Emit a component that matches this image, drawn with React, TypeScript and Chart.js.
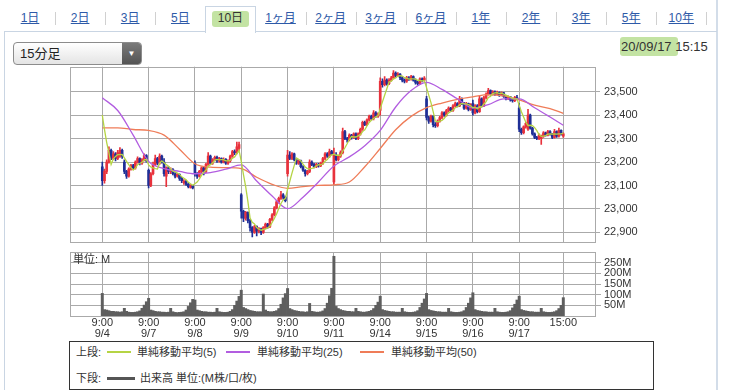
import { useEffect, useRef } from 'react';
import { Chart, registerables } from 'chart.js';

Chart.register(...registerables);

// ---------- data ----------
const dayLabels = ['9/4', '9/7', '9/8', '9/9', '9/10', '9/11', '9/14', '9/15', '9/16', '9/17'];
const openTimeLabel = '9:00';
const closeTimeLabel = '15:00';
const BARS_PER_DAY = 21;
const priceTicks = [22900, 23000, 23100, 23200, 23300, 23400, 23500];
const volumeTicks = [50, 100, 150, 200, 250];
const tabLabels = ['1日', '2日', '3日', '5日', '10日', '1ヶ月', '2ヶ月', '3ヶ月', '6ヶ月', '1年', '2年', '3年', '5年', '10年'];
const selectedTab = '10日';
const intervalLabel = '15分足';
const dateLabel = '20/09/17';
const timeLabel = '15:15';

const opens = [
  23180, 23120, 23160, 23200, 23250, 23215, 23235, 23215, 23225, 23250, 23200, 23160, 23140, 23170, 23185, 23175, 23200, 23215, 23195, 23210, 23228,
  23165, 23100, 23150, 23190, 23215, 23195, 23225, 23200, 23140, 23175, 23160, 23168, 23150, 23140, 23148, 23130, 23112, 23118, 23105, 23092, 23098,
  23195, 23150, 23140, 23160, 23175, 23160, 23190, 23225, 23195, 23210, 23220, 23205, 23215, 23200, 23212, 23195, 23205, 23225, 23245, 23240, 23258,
  23060, 22990, 22960, 22985, 22950, 22920, 22900, 22925, 22905, 22915, 22900, 22920, 22935, 22925, 22955, 22975, 23005, 23030, 23045, 23060, 23050,
  23150, 23230, 23215, 23235, 23210, 23195, 23205, 23180, 23165, 23150, 23160, 23200, 23190, 23180, 23190, 23183, 23195, 23215, 23235, 23225, 23245,
  23115, 23230, 23210, 23225, 23240, 23330, 23300, 23295, 23315, 23305, 23320, 23300, 23320, 23340, 23370, 23360, 23380, 23395, 23385, 23410, 23395,
  23420, 23545, 23530, 23550, 23535, 23550, 23560, 23580, 23570, 23575, 23560, 23550, 23545, 23560, 23555, 23565, 23550, 23540, 23535, 23555, 23550,
  23470, 23390, 23375, 23395, 23360, 23355, 23375, 23390, 23410, 23400, 23420, 23430, 23420, 23440, 23450, 23440, 23470, 23450, 23430, 23450, 23425,
  23450, 23410, 23440, 23415, 23470, 23440, 23475, 23490, 23505, 23490, 23500, 23490, 23498, 23485, 23495, 23480, 23470, 23478, 23465, 23462, 23475,
  23430, 23340, 23325, 23350, 23340, 23400, 23345, 23320, 23305, 23300, 23300, 23310, 23325, 23315, 23330, 23320, 23305, 23330, 23310, 23335, 23310,
];
const closes = [
  23120, 23160, 23200, 23250, 23220, 23235, 23215, 23240, 23250, 23225, 23160, 23140, 23170, 23185, 23175, 23200, 23215, 23195, 23210, 23228, 23205,
  23100, 23150, 23190, 23215, 23195, 23225, 23200, 23150, 23175, 23160, 23168, 23150, 23140, 23148, 23130, 23120, 23118, 23105, 23095, 23098, 23090,
  23150, 23140, 23160, 23175, 23160, 23190, 23225, 23195, 23210, 23220, 23205, 23215, 23200, 23212, 23195, 23205, 23225, 23245, 23240, 23265, 23275,
  22990, 22960, 22985, 22950, 22920, 22900, 22925, 22905, 22915, 22900, 22920, 22935, 22925, 22955, 22975, 23005, 23030, 23045, 23060, 23050, 23035,
  23230, 23215, 23235, 23210, 23195, 23205, 23180, 23165, 23150, 23160, 23200, 23190, 23180, 23190, 23183, 23195, 23215, 23235, 23225, 23245, 23235,
  23230, 23210, 23225, 23240, 23330, 23300, 23295, 23315, 23305, 23320, 23300, 23320, 23340, 23370, 23360, 23380, 23395, 23385, 23410, 23395, 23405,
  23545, 23530, 23550, 23535, 23550, 23560, 23580, 23570, 23575, 23560, 23550, 23545, 23560, 23555, 23565, 23550, 23540, 23535, 23555, 23550, 23558,
  23390, 23375, 23395, 23360, 23355, 23375, 23390, 23410, 23400, 23420, 23430, 23420, 23440, 23450, 23440, 23470, 23450, 23430, 23450, 23425, 23445,
  23410, 23440, 23415, 23470, 23440, 23475, 23490, 23505, 23490, 23500, 23490, 23498, 23485, 23495, 23480, 23470, 23478, 23465, 23462, 23475, 23470,
  23340, 23325, 23350, 23365, 23400, 23345, 23320, 23305, 23300, 23315, 23310, 23325, 23315, 23330, 23320, 23305, 23330, 23310, 23335, 23320, 23320,
];
const highs = [
  23200, 23170, 23210, 23265, 23255, 23245, 23240, 23250, 23262, 23255, 23210, 23165, 23175, 23190, 23190, 23205, 23222, 23218, 23215, 23235, 23232,
  23170, 23155, 23200, 23230, 23220, 23235, 23230, 23215, 23180, 23182, 23175, 23172, 23155, 23152, 23150, 23135, 23125, 23122, 23110, 23104, 23100,
  23205, 23155, 23165, 23180, 23178, 23195, 23240, 23230, 23215, 23226, 23225, 23220, 23218, 23218, 23215, 23210, 23230, 23250, 23252, 23285, 23285,
  23065, 22995, 22990, 22988, 22955, 22925, 22930, 22928, 22920, 22918, 22925, 22940, 22938, 22960, 22980, 23010, 23035, 23050, 23075, 23065, 23055,
  23250, 23245, 23240, 23238, 23215, 23210, 23208, 23185, 23168, 23165, 23210, 23205, 23195, 23195, 23194, 23200, 23220, 23240, 23240, 23255, 23250,
  23260, 23240, 23230, 23248, 23345, 23335, 23305, 23320, 23318, 23325, 23325, 23325, 23345, 23375, 23375, 23385, 23400, 23400, 23420, 23415, 23410,
  23560, 23555, 23565, 23555, 23556, 23566, 23590, 23585, 23582, 23578, 23565, 23555, 23566, 23565, 23570, 23568, 23555, 23545, 23560, 23560, 23565,
  23480, 23395, 23400, 23398, 23368, 23380, 23395, 23415, 23414, 23425, 23436, 23434, 23445, 23456, 23454, 23480, 23474, 23455, 23455, 23452, 23450,
  23465, 23445, 23445, 23480, 23474, 23480, 23495, 23515, 23508, 23505, 23504, 23503, 23500, 23500, 23498, 23484, 23483, 23480, 23470, 23480, 23485,
  23450, 23345, 23355, 23370, 23425, 23405, 23348, 23325, 23310, 23320, 23315, 23330, 23328, 23335, 23334, 23322, 23340, 23333, 23345, 23338, 23325,
];
const lows = [
  23100, 23110, 23150, 23195, 23210, 23210, 23205, 23210, 23220, 23215, 23150, 23130, 23135, 23165, 23170, 23170, 23195, 23188, 23190, 23205, 23200,
  23090, 23095, 23145, 23185, 23188, 23190, 23195, 23140, 23095, 23150, 23150, 23145, 23132, 23135, 23122, 23112, 23105, 23100, 23090, 23088, 23085,
  23140, 23130, 23135, 23155, 23145, 23155, 23185, 23190, 23190, 23205, 23198, 23200, 23195, 23196, 23190, 23190, 23200, 23220, 23232, 23235, 23250,
  22960, 22945, 22952, 22940, 22905, 22880, 22895, 22885, 22898, 22890, 22895, 22915, 22918, 22920, 22950, 22970, 23000, 23025, 23040, 23042, 23030,
  23140, 23210, 23210, 23205, 23190, 23190, 23175, 23160, 23140, 23145, 23155, 23185, 23175, 23176, 23178, 23180, 23190, 23210, 23220, 23220, 23230,
  23105, 23205, 23205, 23220, 23235, 23295, 23285, 23290, 23298, 23300, 23295, 23296, 23315, 23335, 23355, 23355, 23375, 23380, 23380, 23390, 23390,
  23400, 23520, 23525, 23528, 23530, 23545, 23555, 23562, 23565, 23552, 23542, 23538, 23540, 23548, 23550, 23545, 23532, 23528, 23530, 23542, 23545,
  23380, 23365, 23370, 23350, 23348, 23350, 23370, 23385, 23395, 23396, 23415, 23415, 23416, 23436, 23435, 23436, 23445, 23425, 23426, 23418, 23420,
  23400, 23405, 23410, 23412, 23435, 23436, 23470, 23486, 23485, 23486, 23484, 23486, 23480, 23482, 23476, 23465, 23466, 23460, 23456, 23458, 23465,
  23330, 23318, 23320, 23345, 23335, 23340, 23315, 23300, 23295, 23296, 23275, 23305, 23310, 23312, 23315, 23300, 23302, 23305, 23306, 23315, 23305,
];
// volume in millions
const volumes = [
  106, 30, 28, 25, 22, 22, 20, 20, 18, 20, 36, 22, 18, 17, 17, 18, 20, 24, 36, 51, 67,
  83, 28, 25, 22, 20, 20, 18, 18, 17, 18, 36, 20, 17, 16, 17, 18, 20, 28, 45, 62, 78,
  75, 28, 25, 22, 20, 20, 18, 18, 17, 18, 36, 20, 18, 17, 17, 18, 22, 30, 50, 70, 92,
  121, 40, 35, 30, 26, 24, 22, 20, 20, 20, 103, 28, 22, 20, 20, 22, 25, 35, 55, 85, 105,
  129, 35, 30, 26, 24, 22, 20, 20, 18, 20, 59, 22, 20, 18, 18, 20, 24, 35, 60, 95, 130,
  280, 45, 35, 30, 26, 24, 22, 22, 20, 20, 36, 22, 20, 18, 18, 20, 22, 26, 35, 50, 65,
  93, 30, 26, 24, 22, 20, 20, 18, 18, 18, 36, 20, 18, 17, 17, 18, 20, 25, 40, 60, 80,
  106, 30, 26, 24, 22, 20, 20, 18, 18, 18, 36, 20, 18, 17, 17, 18, 20, 25, 40, 60, 85,
  109, 30, 26, 24, 22, 20, 20, 18, 18, 18, 36, 20, 18, 17, 17, 18, 20, 25, 38, 55, 75,
  93, 30, 26, 24, 22, 20, 20, 18, 18, 18, 36, 20, 18, 17, 17, 18, 20, 25, 35, 50, 86,
];
// closes before the window (implied by where the 5-bar average starts)
const priorCloses = [23470, 23475, 23465, 23470];
// longer moving averages at every 7th bar
const maSampleIdx = [0, 7, 14, 21, 28, 35, 42, 49, 56, 63, 70, 77, 84, 91, 98, 105, 112, 119, 126, 133, 140, 147, 154, 161, 168, 175, 182, 189, 196, 203, 209];
const ma25 = [23474, 23420, 23315, 23203, 23172, 23160, 23150, 23155, 23170, 23188, 23119, 23055, 23001, 23050, 23115, 23183, 23222, 23270, 23335, 23435, 23505, 23540, 23510, 23470, 23430, 23445, 23470, 23470, 23432, 23392, 23357];
const ma50 = [23346, 23346, 23339, 23335, 23315, 23255, 23193, 23178, 23176, 23172, 23135, 23105, 23088, 23095, 23100, 23103, 23115, 23180, 23258, 23338, 23395, 23432, 23452, 23468, 23478, 23488, 23482, 23465, 23443, 23428, 23408];
const legendItems = ['単純移動平均(5)', '単純移動平均(25)', '単純移動平均(50)'];
const volumeLegend = '出来高 単位:(M株/口/枚)';

// ---------- style ----------
const FONT = "'Liberation Sans', Arial, 'Noto Sans CJK JP', sans-serif";
const RED = '#e8323c';
const BLUE = '#1f2f96';
const C_MA5 = '#b5d444';
const C_MA25 = '#b25de0';
const C_MA50 = '#ef7c58';
const C_VOL = '#5e5e5e';
const GRID = '#aaaaaa';
const TEXT = '#333333';
const PANEL = '#c9d5e3';
const GREEN_HL = '#c3e3a3';

const X_MIN = -14.64;
const X_MAX = 223.37;

const framePlugin = {
  id: 'frame',
  afterDraw(chart: any) {
    const { ctx, chartArea: a } = chart;
    ctx.save();
    ctx.strokeStyle = GRID;
    ctx.lineWidth = 1;
    const l = Math.round(a.left) + 0.5;
    const t = Math.round(a.top) + 0.5;
    const r = Math.round(a.right) + 0.5;
    const b = Math.round(a.bottom) + 0.5;
    ctx.strokeRect(l, t, r - l, b - t);
    ctx.restore();
  },
};

export default function App() {
  const priceRef = useRef<HTMLCanvasElement>(null);
  const volRef = useRef<HTMLCanvasElement>(null);

  useEffect(() => {
    const n = closes.length;
    const gridIdx = [...dayLabels.map((_, d) => d * BARS_PER_DAY), n - 1];
    const allCloses = [...priorCloses, ...closes];
    const ma5 = closes.map((_, i) => {
      let s = 0;
      for (let k = 0; k < 5; k++) s += allCloses[i + k];
      return s / 5;
    });
    const candleColor = (ctx: any) => (closes[ctx.dataIndex] >= opens[ctx.dataIndex] ? RED : BLUE);

    const xBase = (showLabels: boolean, height: number) => ({
      type: 'linear' as const,
      min: X_MIN,
      max: X_MAX,
      offset: false,
      afterBuildTicks: (s: any) => {
        s.ticks = gridIdx.map((v) => ({ value: v }));
      },
      afterFit: (s: any) => {
        s.height = height;
        s.paddingLeft = 0;
        s.paddingRight = 0;
      },
      grid: { color: GRID, drawTicks: false, lineWidth: 1, offset: false },
      border: { display: false },
      ticks: {
        display: showLabels,
        autoSkip: false,
        maxRotation: 0,
        minRotation: 0,
        padding: 1,
        color: TEXT,
        font: { family: FONT, size: 11, lineHeight: 1 },
        callback: (v: any) => {
          const i = Math.round(Number(v));
          if (i % BARS_PER_DAY === 0 && i / BARS_PER_DAY < dayLabels.length) {
            return [openTimeLabel, dayLabels[i / BARS_PER_DAY]];
          }
          return closeTimeLabel;
        },
      },
    });

    const yFit = (s: any) => {
      s.width = 138;
      s.paddingTop = 0;
      s.paddingBottom = 0;
    };

    const price = new Chart(priceRef.current!, {
      type: 'bar',
      data: {
        datasets: [
          {
            type: 'line',
            data: ma5.map((y, i) => ({ x: i, y })),
            borderColor: C_MA5,
            borderWidth: 1.3,
            pointRadius: 0,
            tension: 0,
            order: 0,
          } as any,
          {
            type: 'line',
            data: ma25.map((y, k) => ({ x: maSampleIdx[k], y })),
            borderColor: C_MA25,
            borderWidth: 1.3,
            pointRadius: 0,
            cubicInterpolationMode: 'monotone',
            order: 1,
          },
          {
            type: 'line',
            data: ma50.map((y, k) => ({ x: maSampleIdx[k], y })),
            borderColor: C_MA50,
            borderWidth: 1.3,
            pointRadius: 0,
            cubicInterpolationMode: 'monotone',
            order: 2,
          },
          {
            type: 'bar',
            data: opens.map((o, i) => ({ x: i, y: [o, closes[i]] })),
            backgroundColor: candleColor,
            barThickness: 2,
            minBarLength: 1,
            grouped: false,
            borderWidth: 0,
            order: 3,
          },
          {
            type: 'bar',
            data: lows.map((lo, i) => ({ x: i, y: [lo, highs[i]] })),
            backgroundColor: candleColor,
            barThickness: 1,
            grouped: false,
            borderWidth: 0,
            order: 4,
          },
        ],
      } as any,
      options: {
        animation: false,
        responsive: false,
        devicePixelRatio: 1,
        layout: { padding: { left: 70, right: 0, top: 6.7, bottom: 8.3 } },
        plugins: { legend: { display: false }, tooltip: { enabled: false } },
        scales: {
          x: xBase(false, 0) as any,
          y: {
            position: 'right',
            min: 22860,
            max: 23607,
            afterBuildTicks: (s: any) => {
              s.ticks = priceTicks.map((v) => ({ value: v }));
            },
            afterFit: yFit,
            grid: { color: GRID, tickLength: 5, lineWidth: 1 },
            border: { display: false },
            ticks: {
              autoSkip: false,
              color: TEXT,
              padding: 4,
              font: { family: FONT, size: 11 },
              callback: (v: any) => Number(v).toLocaleString('en-US'),
            },
          },
        },
      } as any,
      plugins: [framePlugin],
    });

    const vol = new Chart(volRef.current!, {
      type: 'bar',
      data: {
        datasets: [
          {
            data: volumes.map((v, i) => ({ x: i, y: v })),
            backgroundColor: C_VOL,
            barThickness: 2.3,
            borderWidth: 0,
            grouped: false,
          },
        ],
      } as any,
      options: {
        animation: false,
        responsive: false,
        devicePixelRatio: 1,
        layout: { padding: { left: 70, right: 0, top: 8, bottom: 0 } },
        plugins: { legend: { display: false }, tooltip: { enabled: false } },
        scales: {
          x: xBase(true, 28) as any,
          y: {
            position: 'right',
            min: 0,
            max: 300,
            afterBuildTicks: (s: any) => {
              s.ticks = volumeTicks.map((v) => ({ value: v }));
            },
            afterFit: yFit,
            grid: { color: GRID, tickLength: 6, lineWidth: 1 },
            border: { display: false },
            ticks: {
              autoSkip: false,
              color: TEXT,
              padding: 3,
              font: { family: FONT, size: 11, lineHeight: 1 },
              callback: (v: any) => `${v}M`,
            },
          },
        },
      } as any,
      plugins: [framePlugin],
    });

    return () => {
      price.destroy();
      vol.destroy();
    };
  }, []);

  const tabW = 50.1;
  const legendLine = (color: string, h: number) => ({
    display: 'inline-block',
    width: 24,
    height: h,
    background: color,
  });

  return (
    <div
      style={{
        position: 'absolute',
        left: 0,
        top: 0,
        width: 733,
        height: 390,
        overflow: 'hidden',
        background: '#ffffff',
        fontFamily: FONT,
        color: TEXT,
      }}
    >
      {/* panel frame */}
      <div style={{ position: 'absolute', left: 4, top: 31, width: 1, height: 360, background: PANEL }} />
      <div style={{ position: 'absolute', left: 716, top: 0, width: 2, height: 390, background: '#d3dde9' }} />
      <div style={{ position: 'absolute', left: 4, top: 31, width: 201, height: 1, background: PANEL }} />
      <div style={{ position: 'absolute', left: 256, top: 31, width: 461, height: 1, background: PANEL }} />

      {/* tabs */}
      {tabLabels.map((t, i) => {
        const left = 5 + tabW * i;
        const sel = t === selectedTab;
        return (
          <div key={t}>
            {sel && (
              <div
                style={{
                  position: 'absolute',
                  left: left,
                  top: 6,
                  width: 49,
                  height: 26,
                  border: `1px solid ${PANEL}`,
                  borderBottom: 'none',
                  background: '#fff',
                }}
              />
            )}
            {sel && (
              <div
                style={{
                  position: 'absolute',
                  left: left + 7,
                  top: 11,
                  width: 37,
                  height: 16,
                  background: GREEN_HL,
                  borderRadius: 3,
                }}
              />
            )}
            <div
              style={{
                position: 'absolute',
                left: left,
                top: 10,
                width: 50,
                textAlign: 'center',
                fontSize: 12,
                lineHeight: '16px',
                color: sel ? TEXT : '#2e5aa8',
                textDecoration: sel ? 'none' : 'underline',
              }}
            >
              {t}
            </div>
            {i > 0 && t !== selectedTab && tabLabels[i - 1] !== selectedTab && (
              <div style={{ position: 'absolute', left: Math.round(left), top: 12, width: 1, height: 13, background: '#d0d0d0' }} />
            )}
          </div>
        );
      })}
      <div style={{ position: 'absolute', left: Math.round(5 + tabW * 14), top: 12, width: 1, height: 13, background: '#d0d0d0' }} />

      {/* interval dropdown */}
      <div
        style={{
          position: 'absolute',
          left: 13,
          top: 42,
          width: 127,
          height: 21,
          border: '1px solid #8c8c8c',
          borderRadius: 4,
          background: 'linear-gradient(#ffffff, #e4e4e4)',
          overflow: 'hidden',
        }}
      >
        <div style={{ position: 'absolute', left: 6, top: 2, fontSize: 13, lineHeight: '17px', color: '#222' }}>{intervalLabel}</div>
        <div
          style={{
            position: 'absolute',
            right: 0,
            top: 0,
            width: 19,
            height: 21,
            background: 'linear-gradient(#7a7a7a, #545454)',
            color: '#fff',
            fontSize: 8,
            lineHeight: '21px',
            textAlign: 'center',
          }}
        >
          ▼
        </div>
      </div>

      {/* date */}
      <div style={{ position: 'absolute', left: 620, top: 37, width: 58, height: 19, background: GREEN_HL, borderRadius: 3 }} />
      <div style={{ position: 'absolute', left: 621, top: 39, fontSize: 13, lineHeight: '15px', color: TEXT, whiteSpace: 'nowrap' }}>
        {dateLabel} {timeLabel}
      </div>

      {/* charts */}
      <canvas ref={priceRef} width={733} height={190} style={{ position: 'absolute', left: 0, top: 60, width: 733, height: 190 }} />
      <canvas ref={volRef} width={733} height={100} style={{ position: 'absolute', left: 0, top: 244, width: 733, height: 100 }} />
      <div style={{ position: 'absolute', left: 73, top: 253, fontSize: 11, lineHeight: '13px', color: TEXT }}>単位: M</div>

      {/* legend */}
      <div
        style={{
          position: 'absolute',
          left: 69,
          top: 341,
          width: 583,
          height: 47,
          border: '1px solid #333',
          background: '#fff',
          fontSize: 11,
          color: TEXT,
        }}
      >
        <div style={{ position: 'absolute', left: 6, top: 3, lineHeight: '14px', whiteSpace: 'nowrap' }}>上段:</div>
        <div style={{ position: 'absolute', left: 37, top: 9, ...legendLine(C_MA5, 2) }} />
        <div style={{ position: 'absolute', left: 67, top: 3, lineHeight: '14px', whiteSpace: 'nowrap' }}>{legendItems[0]}</div>
        <div style={{ position: 'absolute', left: 156, top: 9, ...legendLine(C_MA25, 2) }} />
        <div style={{ position: 'absolute', left: 187, top: 3, lineHeight: '14px', whiteSpace: 'nowrap' }}>{legendItems[1]}</div>
        <div style={{ position: 'absolute', left: 290, top: 9, ...legendLine(C_MA50, 2) }} />
        <div style={{ position: 'absolute', left: 321, top: 3, lineHeight: '14px', whiteSpace: 'nowrap' }}>{legendItems[2]}</div>
        <div style={{ position: 'absolute', left: 6, top: 29, lineHeight: '14px', whiteSpace: 'nowrap' }}>下段:</div>
        <div style={{ position: 'absolute', left: 37, top: 35, ...legendLine('#555555', 3), width: 28 }} />
        <div style={{ position: 'absolute', left: 70, top: 29, lineHeight: '14px', whiteSpace: 'nowrap' }}>{volumeLegend}</div>
      </div>
    </div>
  );
}
